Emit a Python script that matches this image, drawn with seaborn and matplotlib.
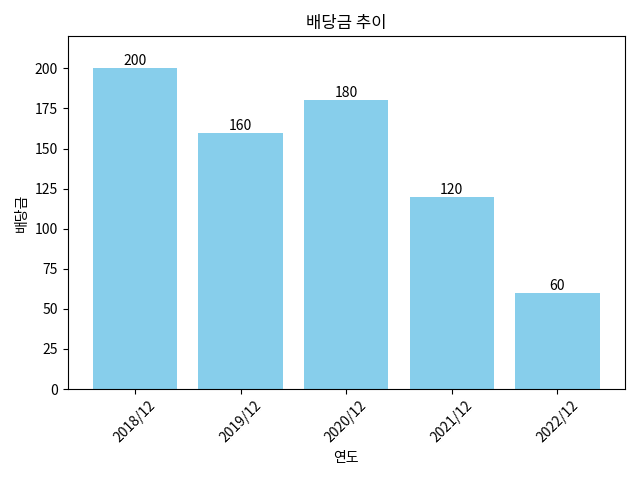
import matplotlib
matplotlib.use("Agg")
import matplotlib.pyplot as plt
import seaborn as sns
import pandas as pd

years = ["2018/12", "2019/12", "2020/12", "2021/12", "2022/12"]
dividends = [200, 160, 180, 120, 60]

plt.rcParams['font.family'] = ['Noto Sans CJK KR', 'DejaVu Sans']
plt.rcParams['axes.unicode_minus'] = False

df = pd.DataFrame({"연도": years, "배당금": dividends})

fig, ax = plt.subplots(figsize=(6.4, 4.8), dpi=100)
sns.barplot(data=df, x="연도", y="배당금", color="skyblue", saturation=1, width=0.8, ax=ax)
for c in ax.containers:
    ax.bar_label(c, fmt="%d")
ax.set_xlim(-0.64, 4.64)
ax.set_ylim(0, 220)
ax.set_title("배당금 추이")
ax.set_xlabel("연도")
ax.set_ylabel("배당금")
plt.setp(ax.get_xticklabels(), rotation=45)
fig.tight_layout()
fig.savefig("out.png", dpi=100)
